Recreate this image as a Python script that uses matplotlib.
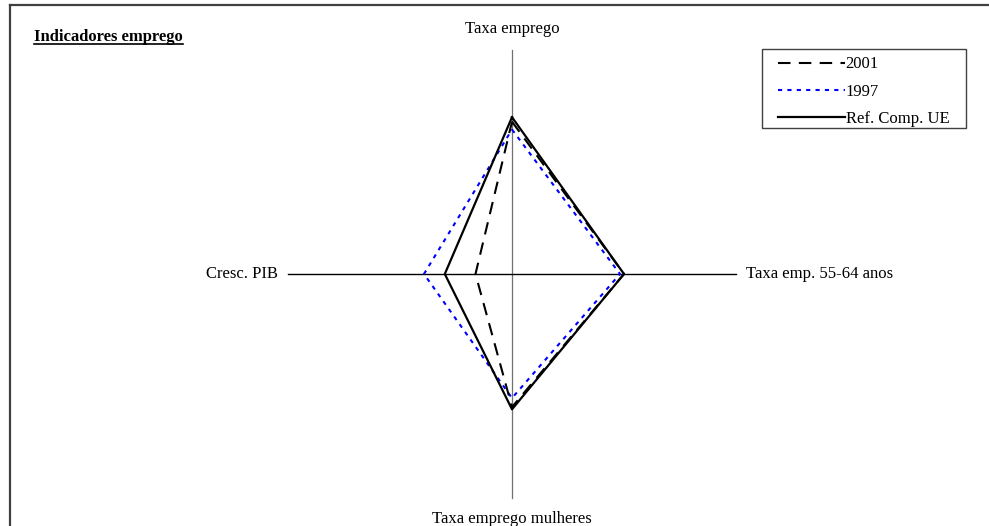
import numpy as np
import matplotlib
matplotlib.use("Agg")
import matplotlib.pyplot as plt
from matplotlib.lines import Line2D
from matplotlib.patches import Rectangle

plt.rcParams['font.family'] = ['Liberation Serif', 'DejaVu Serif']

# eixos do radar (cima, direita, baixo, esquerda)
indicadores = ["Taxa emprego", "Taxa emp. 55-64 anos", "Taxa emprego mulheres", "Cresc. PIB"]
angulos = [90, 0, -90, 180]

v2001 = [68.0, 50.0, 59.4, 16.3]
v1997 = [64.5, 48.2, 55.4, 39.3]
vref = [70.0, 50.0, 60.4, 30.0]
escala_max = 100

W, H = 989, 526
cx, cy = 512, 274          # centro em pixels
px_unit = 224 / escala_max  # pixels por unidade

fig = plt.figure(figsize=(W / 100, H / 100), dpi=100)
ax = fig.add_axes([0, 0, 1, 1])
ax.set_xlim(-cx / px_unit, (W - cx) / px_unit)
ax.set_ylim(-(H - cy) / px_unit, cy / px_unit)
ax.axis("off")

# linhas dos eixos
ax.plot([0, 0], [-escala_max, escala_max], color="#707070", lw=0.9, zorder=1)
ax.plot([-escala_max, escala_max], [0, 0], color="black", lw=1.0, zorder=1)


def poligono(vals):
    a = np.deg2rad(angulos)
    v = np.array(vals)
    x = v * np.cos(a)
    y = v * np.sin(a)
    return np.append(x, x[0]), np.append(y, y[0])


x, y = poligono(v1997)
l97, = ax.plot(x, y, color="blue", lw=1.5, linestyle=(0, (2, 2.5)), zorder=2)
x, y = poligono(vref)
lref, = ax.plot(x, y, color="black", lw=1.6, zorder=3)
x, y = poligono(v2001)
l01, = ax.plot(x, y, color="black", lw=1.5, linestyle=(0, (6, 4)), zorder=4)

# rótulos dos eixos
ax.annotate(indicadores[0], (0, escala_max), xytext=(0, 15), textcoords="offset points",
            ha="center", va="center", fontsize=12)
ax.annotate(indicadores[1], (escala_max, 0), xytext=(7, 0), textcoords="offset points",
            ha="left", va="center", fontsize=12)
ax.annotate(indicadores[2], (0, -escala_max), xytext=(0, -15), textcoords="offset points",
            ha="center", va="center", fontsize=12)
ax.annotate(indicadores[3], (-escala_max, 0), xytext=(-7, 0), textcoords="offset points",
            ha="right", va="center", fontsize=12)

# legenda (moldura desenhada à parte)
leg = fig.legend([l01, l97, lref], ["2001", "1997", "Ref. Comp. UE"],
                 loc="upper left", bbox_to_anchor=(778 / W, 1 - 56.5 / H),
                 fontsize=12, frameon=False, handlelength=4.0, handletextpad=0.05,
                 labelspacing=0.68, borderpad=0, borderaxespad=0)
fig.add_artist(Rectangle((762 / W, 1 - 128 / H), (966 - 762) / W, (128 - 49) / H,
                         transform=fig.transFigure, fill=False, edgecolor="#404040", lw=1.0))

# título sublinhado
tit = fig.text(34 / W, 1 - 37 / H, "Indicadores emprego", fontsize=12,
               fontweight="bold", ha="left", va="center")
fig.canvas.draw()
bb = tit.get_window_extent(renderer=fig.canvas.get_renderer())
ybase = (H - 43.5) / H
fig.add_artist(Line2D([bb.x0 / W, bb.x1 / W], [ybase, ybase], color="black", lw=1.2))

# moldura (só topo e esquerda visíveis)
fig.add_artist(Line2D([9.5 / W, 1.0], [1 - 5 / H, 1 - 5 / H], color="#404040", lw=1.6))
fig.add_artist(Line2D([9.5 / W, 9.5 / W], [0, 1 - 5 / H], color="#404040", lw=1.6))

fig.savefig("out.png", dpi=100)
